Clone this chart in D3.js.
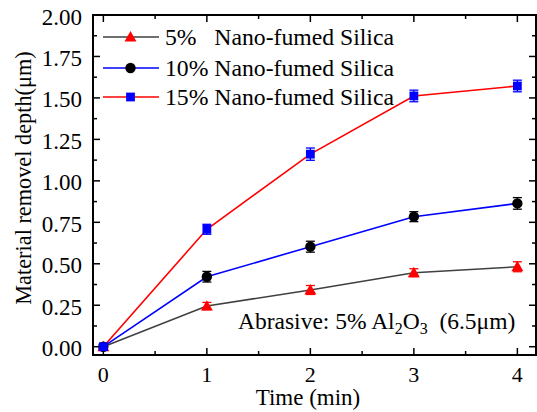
<!DOCTYPE html>
<html>
<head>
<meta charset="utf-8">
<script src="https://cdn.jsdelivr.net/npm/d3@7"></script>
<style>
  html, body { margin: 0; padding: 0; background: #fff; }
  svg { display: block; }
</style>
</head>
<body>
<svg id="chart" width="537" height="412"></svg>
<script>
// Polishing time (min)
const times = [0, 1, 2, 3, 4];

// Material removal depth (µm) and error half-widths for each silica loading
const silica5 = [0, 0.245, 0.342, 0.446, 0.482];
const silica5Err = [0.015, 0.022, 0.027, 0.024, 0.03];
const silica10 = [0, 0.422, 0.603, 0.784, 0.864];
const silica10Err = [0.015, 0.032, 0.033, 0.03, 0.035];
const silica15 = [0, 0.708, 1.161, 1.512, 1.572];
const silica15Err = [0.015, 0.03, 0.037, 0.035, 0.035];

const seriesNames = ["5%   Nano-fumed Silica", "10% Nano-fumed Silica", "15% Nano-fumed Silica"];
const xTicks = [0, 1, 2, 3, 4];
const yTicks = [0, 0.25, 0.5, 0.75, 1.0, 1.25, 1.5, 1.75, 2.0];

const series = [
  { name: seriesNames[0], values: silica5, err: silica5Err, line: "#404040", marker: "triangle", fill: "#ff0000", errColor: "#ff0000" },
  { name: seriesNames[1], values: silica10, err: silica10Err, line: "#0000ff", marker: "circle", fill: "#000000", errColor: "#000000" },
  { name: seriesNames[2], values: silica15, err: silica15Err, line: "#ff0000", marker: "square", fill: "#0000ff", errColor: "#0000ff" }
];

const FONT = "'Liberation Serif', 'Times New Roman', Times, 'DejaVu Serif', serif";

const svg = d3.select("#chart")
  .attr("font-family", FONT)
  .style("font-family", FONT);
const plotL = 93, plotR = 536, plotT = 15, plotB = 355;

const x = d3.scaleLinear().domain([-0.1, 4.18]).range([plotL, plotR]);
const y = d3.scaleLinear().domain([-0.05, 2.0]).range([plotB, plotT]);

// Frame
svg.append("rect")
  .attr("x", plotL).attr("y", plotT)
  .attr("width", plotR - plotL).attr("height", plotB - plotT)
  .attr("fill", "none").attr("stroke", "#000").attr("stroke-width", 2);

// Inward ticks on all four sides (major + minor)
const xMinor = d3.range(0.5, 4.1, 1);
const yMinor = d3.range(0.125, 2.0, 0.25);
const ticks = svg.append("g").attr("stroke", "#000").attr("stroke-width", 1.5);
function xTickMarks(vals, len) {
  vals.forEach(v => {
    ticks.append("line").attr("x1", x(v)).attr("x2", x(v)).attr("y1", plotB).attr("y2", plotB - len);
    ticks.append("line").attr("x1", x(v)).attr("x2", x(v)).attr("y1", plotT).attr("y2", plotT + len);
  });
}
function yTickMarks(vals, len) {
  vals.forEach(v => {
    ticks.append("line").attr("y1", y(v)).attr("y2", y(v)).attr("x1", plotL).attr("x2", plotL + len);
    ticks.append("line").attr("y1", y(v)).attr("y2", y(v)).attr("x1", plotR).attr("x2", plotR - len);
  });
}
xTickMarks(xTicks, 7);
xTickMarks(xMinor, 4);
yTickMarks(yTicks, 7);
yTickMarks(yMinor, 4);

// Tick labels
svg.append("g").selectAll("text").data(xTicks).join("text")
  .attr("x", d => x(d)).attr("y", 382)
  .attr("text-anchor", "middle").attr("font-size", 22)
  .text(d => d3.format("d")(d));
svg.append("g").selectAll("text").data(yTicks).join("text")
  .attr("x", 82).attr("y", d => y(d) + 9.5)
  .attr("text-anchor", "end").attr("font-size", 23)
  .text(d => d3.format(".2f")(d));

// Axis titles
svg.append("text")
  .attr("x", 308).attr("y", 405)
  .attr("text-anchor", "middle").attr("font-size", 23)
  .text("Time (min)");
svg.append("text")
  .attr("transform", "translate(31,178) rotate(-90)")
  .attr("text-anchor", "middle").attr("font-size", 22.3)
  .text("Material removel depth(\u03bcm)");

// Marker drawing helper
function drawMarker(g, type, cx, cy, fill) {
  if (type === "triangle") {
    g.append("path").attr("d", d3.symbol().type(d3.symbolTriangle).size(62)())
      .attr("transform", `translate(${cx},${cy + 1})`).attr("fill", fill);
  } else if (type === "circle") {
    g.append("circle").attr("cx", cx).attr("cy", cy).attr("r", 5.2).attr("fill", fill);
  } else {
    g.append("rect").attr("x", cx - 4.4).attr("y", cy - 4.4).attr("width", 8.8).attr("height", 8.8).attr("fill", fill);
  }
}

const line = d3.line().x((d, i) => x(times[i])).y(d => y(d));

series.forEach(s => {
  const g = svg.append("g");
  g.append("path").attr("d", line(s.values))
    .attr("fill", "none").attr("stroke", s.line).attr("stroke-width", 1.6);
  s.values.forEach((v, i) => {
    const cx = x(times[i]);
    const y1 = y(v + s.err[i]), y2 = y(v - s.err[i]);
    g.append("line").attr("x1", cx).attr("x2", cx).attr("y1", y1).attr("y2", y2)
      .attr("stroke", s.errColor).attr("stroke-width", 1.3);
    [y1, y2].forEach(yy => g.append("line").attr("x1", cx - 4.5).attr("x2", cx + 4.5)
      .attr("y1", yy).attr("y2", yy).attr("stroke", s.errColor).attr("stroke-width", 1.3));
    drawMarker(g, s.marker, cx, y(v), s.fill);
  });
});

// Legend
const legend = svg.append("g");
const legendRows = [37, 68, 97];
series.forEach((s, i) => {
  const ly = legendRows[i];
  legend.append("line").attr("x1", 103).attr("x2", 159).attr("y1", ly).attr("y2", ly)
    .attr("stroke", s.line).attr("stroke-width", 1.6);
  drawMarker(legend, s.marker, 130.5, ly, s.fill);
  legend.append("text").attr("x", 165).attr("y", ly + 8)
    .attr("font-size", 23.7).style("white-space", "pre")
    .text(s.name);
});

// Annotation
const note = svg.append("text").attr("x", 238).attr("y", 329).attr("font-size", 23.5)
  .style("white-space", "pre");
note.append("tspan").text("Abrasive: 5% Al");
note.append("tspan").attr("font-size", 16).attr("dy", 5).text("2");
note.append("tspan").attr("dy", -5).text("O");
note.append("tspan").attr("font-size", 16).attr("dy", 5).text("3");
note.append("tspan").attr("dy", -5).text("  (6.5\u03bcm)");
</script>
</body>
</html>
